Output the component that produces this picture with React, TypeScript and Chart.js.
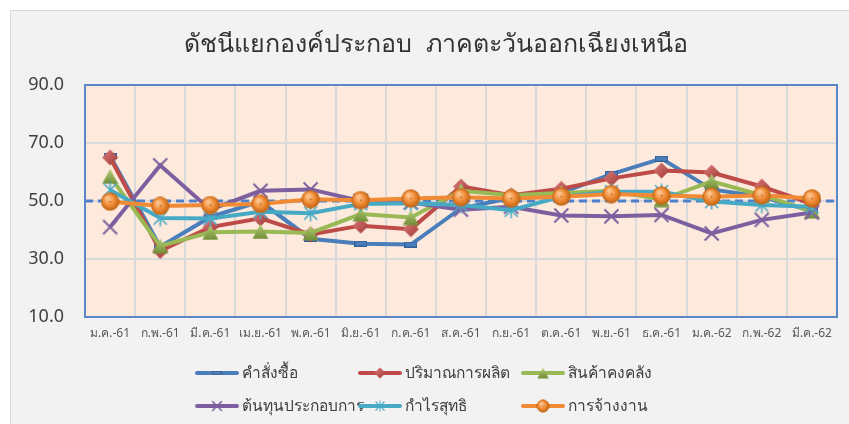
import React, { useEffect, useRef } from "react";
import { Chart, registerables } from "chart.js";

Chart.register(...registerables);

const categories = [
  "ม.ค.-61", "ก.พ.-61", "มี.ค.-61", "เม.ย.-61", "พ.ค.-61", "มิ.ย.-61", "ก.ค.-61",
  "ส.ค.-61", "ก.ย.-61", "ต.ค.-61", "พ.ย.-61", "ธ.ค.-61", "ม.ค.-62", "ก.พ.-62", "มี.ค.-62",
];

const orders = [65.5, 34.2, 44.5, 49.8, 37.0, 35.3, 35.0, 47.5, 51.0, 52.8, 59.3, 64.6, 54.0, 51.5, 46.5];
const production = [65.0, 32.8, 41.0, 44.0, 38.5, 41.5, 40.3, 55.0, 52.0, 54.2, 57.8, 60.5, 59.8, 55.0, 49.0];
const inventory = [58.5, 34.5, 39.2, 39.5, 39.0, 45.5, 44.3, 53.5, 52.0, 52.8, 53.5, 50.5, 56.8, 52.0, 46.5];
const operatingCost = [41.0, 62.3, 47.0, 53.5, 54.0, 50.0, 49.5, 47.0, 48.0, 45.0, 44.7, 45.2, 38.8, 43.5, 46.0];
const netProfit = [53.8, 44.1, 44.0, 46.3, 45.8, 49.0, 49.2, 48.6, 46.8, 51.5, 53.2, 53.2, 49.8, 48.6, 48.0];
const employment = [49.8, 48.3, 48.6, 49.0, 50.6, 50.3, 50.9, 51.3, 50.9, 51.5, 52.4, 51.9, 51.5, 52.0, 50.9];

const seriesNames = ["คำสั่งซื้อ", "ปริมาณการผลิต", "สินค้าคงคลัง", "ต้นทุนประกอบการ", "กำไรสุทธิ", "การจ้างงาน"];
const yTicks = [10, 30, 50, 70, 90];
const referenceLevel = 50;
const titleText = "ดัชนีแยกองค์ประกอบ  ภาคตะวันออกเฉียงเหนือ";

const COLORS = ["#4a7ebb", "#be4b48", "#98b954", "#7d5fa0", "#46aac5", "#f08a34"];
const FONT = "'Noto Sans', 'DejaVu Sans', sans-serif";

function mk(w: number, h: number, draw: (c: CanvasRenderingContext2D) => void) {
  const c = document.createElement("canvas");
  c.width = w;
  c.height = h;
  draw(c.getContext("2d") as CanvasRenderingContext2D);
  return c;
}

function makeMarkers() {
  const rect = mk(13, 6, (c) => {
    c.fillStyle = "#4a7ebb";
    c.fillRect(0.5, 0.5, 12, 5);
    c.strokeStyle = "#355f96";
    c.lineWidth = 1;
    c.strokeRect(0.5, 0.5, 12, 5);
  });
  const diamond = mk(17, 17, (c) => {
    const g = c.createLinearGradient(0, 0, 17, 17);
    g.addColorStop(0, "#e07f7c");
    g.addColorStop(1, "#9c3633");
    c.fillStyle = g;
    c.beginPath();
    c.moveTo(8.5, 0.5);
    c.lineTo(16.5, 8.5);
    c.lineTo(8.5, 16.5);
    c.lineTo(0.5, 8.5);
    c.closePath();
    c.fill();
  });
  const triangle = mk(17, 16, (c) => {
    const g = c.createLinearGradient(0, 0, 0, 16);
    g.addColorStop(0, "#b5d27a");
    g.addColorStop(1, "#6f8c35");
    c.fillStyle = g;
    c.beginPath();
    c.moveTo(8.5, 0.5);
    c.lineTo(16.5, 15.5);
    c.lineTo(0.5, 15.5);
    c.closePath();
    c.fill();
  });
  const cross = mk(17, 17, (c) => {
    c.strokeStyle = "#7d5fa0";
    c.lineWidth = 2;
    c.beginPath();
    c.moveTo(1.5, 1.5);
    c.lineTo(15.5, 15.5);
    c.moveTo(15.5, 1.5);
    c.lineTo(1.5, 15.5);
    c.stroke();
  });
  const star = mk(17, 17, (c) => {
    c.strokeStyle = "#46aac5";
    c.lineWidth = 1.6;
    c.beginPath();
    c.moveTo(8.5, 0.5);
    c.lineTo(8.5, 16.5);
    c.moveTo(2, 2);
    c.lineTo(15, 15);
    c.moveTo(15, 2);
    c.lineTo(2, 15);
    c.stroke();
  });
  const sphere = mk(19, 19, (c) => {
    const g = c.createRadialGradient(7, 6, 1, 9.5, 9.5, 9.5);
    g.addColorStop(0, "#fcc48f");
    g.addColorStop(0.55, "#f08a34");
    g.addColorStop(1, "#b9600f");
    c.fillStyle = g;
    c.beginPath();
    c.arc(9.5, 9.5, 8.8, 0, Math.PI * 2);
    c.fill();
    c.strokeStyle = "#c56a1c";
    c.lineWidth = 0.8;
    c.stroke();
    c.fillStyle = "#8a4a10";
    c.fillRect(9, 9, 1.2, 1.2);
  });
  return [rect, diamond, triangle, cross, star, sphere];
}

export default function App() {
  const ref = useRef<HTMLCanvasElement | null>(null);

  useEffect(() => {
    document.body.style.margin = "0";
    const canvas = ref.current;
    if (!canvas) return;
    const markers = makeMarkers();
    const values = [orders, production, inventory, operatingCost, netProfit, employment];

    const datasets = values.map((v, i) => ({
      label: seriesNames[i],
      data: v,
      borderColor: COLORS[i],
      backgroundColor: COLORS[i],
      borderWidth: 4,
      pointStyle: markers[i] as any,
      pointRadius: 8,
      pointHoverRadius: 8,
      tension: 0,
      order: 6 - i,
    }));

    const framePlugin = {
      id: "frame",
      beforeDatasetsDraw(chart: any) {
        const { ctx, chartArea } = chart;
        const y = chart.scales.y.getPixelForValue(referenceLevel);
        ctx.save();
        ctx.strokeStyle = "#4f7fc8";
        ctx.lineWidth = 3;
        ctx.setLineDash([8, 5]);
        ctx.beginPath();
        ctx.moveTo(chartArea.left, y);
        ctx.lineTo(chartArea.right, y);
        ctx.stroke();
        ctx.setLineDash([]);
        ctx.strokeStyle = "#5b86c8";
        ctx.lineWidth = 2;
        ctx.strokeRect(chartArea.left, chartArea.top, chartArea.right - chartArea.left, chartArea.bottom - chartArea.top);
        ctx.restore();
      },
      beforeDraw(chart: any) {
        const { ctx, chartArea } = chart;
        ctx.save();
        ctx.fillStyle = "#fdeadc";
        ctx.fillRect(chartArea.left, chartArea.top, chartArea.right - chartArea.left, chartArea.bottom - chartArea.top);
        ctx.restore();
      },
      afterDraw(chart: any) {
        const { ctx } = chart;
        ctx.save();
        // title
        ctx.fillStyle = "#333333";
        ctx.font = `25px ${FONT}`;
        ctx.textAlign = "center";
        ctx.textBaseline = "middle";
        ctx.fillText(titleText, 436, 45);
        // legend
        const cols = [197, 360, 523];
        const rows = [373, 406];
        ctx.font = `15.5px ${FONT}`;
        ctx.textAlign = "left";
        seriesNames.forEach((name, i) => {
          const x = cols[i % 3];
          const y = rows[Math.floor(i / 3)];
          ctx.strokeStyle = COLORS[i];
          ctx.lineWidth = 4;
          ctx.lineCap = "round";
          ctx.beginPath();
          ctx.moveTo(x, y);
          ctx.lineTo(x + 40, y);
          ctx.stroke();
          const m = markers[i];
          const s = 0.7;
          ctx.drawImage(m, x + 20 - (m.width * s) / 2, y - (m.height * s) / 2, m.width * s, m.height * s);
          ctx.fillStyle = "#404040";
          ctx.fillText(name, x + 45, y + 1);
        });
        ctx.restore();
      },
    };

    const chart = new Chart(canvas, {
      type: "line",
      data: { labels: categories, datasets },
      options: {
        animation: false,
        responsive: true,
        maintainAspectRatio: false,
        layout: { padding: { left: 0, right: 9, top: 85, bottom: 0 } },
        plugins: {
          legend: { display: false },
          title: { display: false },
          tooltip: { enabled: false },
        },
        scales: {
          x: {
            offset: true,
            grid: { offset: true, color: "#d9d9d9", lineWidth: 2, drawTicks: false },
            border: { display: false },
            ticks: {
              autoSkip: false,
              maxRotation: 0,
              padding: 9,
              color: "#595959",
              font: { size: 12, family: FONT },
            },
            afterFit: (s: any) => {
              s.height = 107;
            },
          },
          y: {
            min: 10,
            max: 90,
            grid: { color: "#d9d9d9", lineWidth: 2, drawTicks: false },
            border: { display: false },
            afterBuildTicks: (s: any) => {
              s.ticks = yTicks.map((v) => ({ value: v }));
            },
            ticks: {
              padding: 21,
              color: "#404040",
              font: { size: 18, family: FONT },
              callback: (v: any) => Number(v).toFixed(1),
            },
            afterFit: (s: any) => {
              s.width = 85;
            },
          },
        },
      },
      plugins: [framePlugin],
    });
    return () => chart.destroy();
  }, []);

  return (
    <div style={{ position: "fixed", left: 0, top: 0, width: 849, height: 424, background: "#ffffff" }}>
      <div
        style={{
          position: "absolute",
          left: 10,
          top: 10,
          right: 0,
          bottom: 0,
          background: "#f2f2f2",
          borderLeft: "1px solid #d9d9d9",
          borderTop: "1px solid #d9d9d9",
        }}
      />
      <div style={{ position: "absolute", left: 0, top: 0, width: 849, height: 424 }}>
        <canvas ref={ref} />
      </div>
    </div>
  );
}
